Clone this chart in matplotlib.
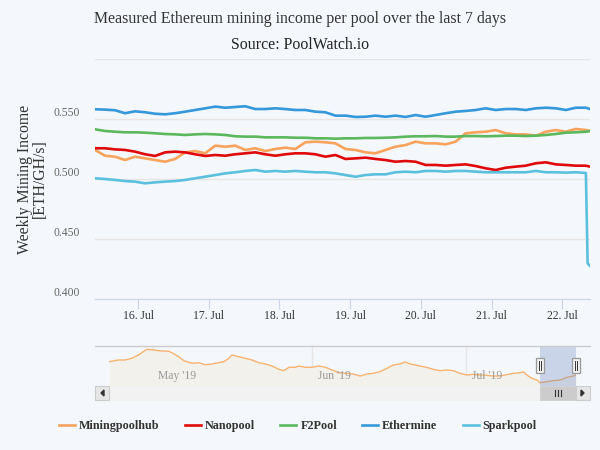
import numpy as np
import pandas as pd
import matplotlib
matplotlib.use("Agg")
import matplotlib.pyplot as plt
import matplotlib.dates as mdates
from matplotlib.patches import Rectangle, Polygon
from matplotlib.lines import Line2D

plt.rcParams["font.family"] = ["Liberation Serif", "DejaVu Serif"]

# --- data ---
start = pd.Timestamp("2019-07-15 09:24")
hours = list(np.arange(50) * 3.4) + [168.0]
spark_hours = list(np.arange(50) * 3.4) + [167.2, 168.0]

miningpoolhub = [0.5242, 0.5194, 0.5186, 0.5158, 0.5186, 0.5172, 0.5158, 0.5144, 0.5167, 0.5222,
                 0.5233, 0.5214, 0.5278, 0.5269, 0.5278, 0.5242, 0.5256, 0.5233,
                 0.5250, 0.5261, 0.5250, 0.5306, 0.5311, 0.5306, 0.5297, 0.5250, 0.5242, 0.5222,
                 0.5214, 0.5242, 0.5269, 0.5283, 0.5311, 0.5297,
                 0.5297, 0.5289, 0.5311, 0.5381, 0.5389, 0.5394, 0.5408, 0.5381, 0.5372, 0.5372,
                 0.5361, 0.5394, 0.5408, 0.5394, 0.5417, 0.5408, 0.5400]
nanopool = [0.5256, 0.5256, 0.5247, 0.5242, 0.5228, 0.5206, 0.5192, 0.5222, 0.5228, 0.5222,
            0.5206, 0.5192, 0.5200, 0.5194, 0.5206, 0.5214, 0.5222, 0.5206,
            0.5194, 0.5206, 0.5214, 0.5214, 0.5206, 0.5186, 0.5200, 0.5167, 0.5172, 0.5178,
            0.5167, 0.5158, 0.5144, 0.5150, 0.5144, 0.5117,
            0.5117, 0.5111, 0.5117, 0.5122, 0.5108, 0.5089, 0.5075, 0.5094, 0.5103, 0.5111,
            0.5131, 0.5139, 0.5122, 0.5117, 0.5111, 0.5111, 0.5103]
f2pool = [0.5414, 0.5400, 0.5394, 0.5389, 0.5389, 0.5386, 0.5381, 0.5375, 0.5372, 0.5367,
          0.5372, 0.5375, 0.5372, 0.5367, 0.5356, 0.5353, 0.5353, 0.5347,
          0.5347, 0.5347, 0.5344, 0.5344, 0.5339, 0.5339, 0.5336, 0.5339, 0.5339, 0.5342,
          0.5342, 0.5344, 0.5347, 0.5353, 0.5356, 0.5356,
          0.5358, 0.5353, 0.5353, 0.5358, 0.5358, 0.5356, 0.5358, 0.5361, 0.5361, 0.5358,
          0.5361, 0.5367, 0.5375, 0.5386, 0.5389, 0.5394, 0.5400]
ethermine = [0.5581, 0.5578, 0.5573, 0.5548, 0.5564, 0.5556, 0.5544, 0.5539, 0.5548, 0.5561,
             0.5575, 0.5589, 0.5603, 0.5594, 0.5600, 0.5606, 0.5583, 0.5583,
             0.5589, 0.5583, 0.5575, 0.5575, 0.5561, 0.5556, 0.5528, 0.5528, 0.5517, 0.5519,
             0.5528, 0.5519, 0.5528, 0.5517, 0.5533, 0.5519,
             0.5533, 0.5548, 0.5561, 0.5567, 0.5575, 0.5589, 0.5575, 0.5583, 0.5583, 0.5575,
             0.5589, 0.5594, 0.5589, 0.5575, 0.5594, 0.5594, 0.5583]
sparkpool = [0.5006, 0.5000, 0.4992, 0.4983, 0.4978, 0.4964, 0.4972, 0.4978, 0.4983, 0.4992,
             0.5006, 0.5019, 0.5033, 0.5047, 0.5056, 0.5067, 0.5075, 0.5061,
             0.5067, 0.5061, 0.5067, 0.5061, 0.5056, 0.5056, 0.5047, 0.5033, 0.5019, 0.5033,
             0.5039, 0.5039, 0.5056, 0.5061, 0.5056, 0.5067,
             0.5067, 0.5061, 0.5067, 0.5067, 0.5061, 0.5056, 0.5056, 0.5056, 0.5056, 0.5056,
             0.5067, 0.5056, 0.5056, 0.5053, 0.5056, 0.5050, 0.4297, 0.4275]

# navigator: Miningpoolhub over the whole history, days since 1 May 2019
nav_days = [-8.5, -6.7, -5.4, -4.1, -2.8, -1.2, 0.2, 1.1, 3.1, 3.7, 5.0, 6.0, 7.6, 8.9, 10.2,
            11.5, 12.8, 13.8, 14.8, 15.4, 16.7, 18.0, 19.3, 20.6, 21.9, 23.2, 24.5, 25.5, 26.5,
            27.7, 28.4, 29.7, 31.0, 32.3, 33.6, 34.9, 36.2, 37.8, 39.0, 40.4, 41.7, 42.9, 44.2,
            45.6, 46.8, 48.1, 49.1, 50.1, 52.0, 53.3, 54.6, 55.9, 57.2, 58.5, 59.8, 61.1, 62.4,
            63.7, 65.0, 66.3, 67.6, 68.9, 70.2, 71.5, 72.2, 72.8, 73.8, 74.8, 75.4, 76.7, 78.0,
            79.3, 80.6, 81.9, 82.4]
nav_values = [0.5978, 0.6041, 0.6041, 0.6104, 0.6226, 0.6437, 0.6411, 0.6385, 0.6363, 0.6311,
              0.6163, 0.6015, 0.5919, 0.5941, 0.5867, 0.5893, 0.5941, 0.5978, 0.6104, 0.6226,
              0.6163, 0.6104, 0.6041, 0.5941, 0.5893, 0.5819, 0.5696, 0.5644, 0.5770, 0.5770,
              0.5819, 0.5770, 0.5770, 0.5819, 0.5770, 0.5670, 0.5570, 0.5548, 0.5522, 0.5448,
              0.5522, 0.5548, 0.5607, 0.5733, 0.5856, 0.5893, 0.5967, 0.5893, 0.5819, 0.5770,
              0.5696, 0.5644, 0.5670, 0.5644, 0.5548, 0.5485, 0.5511, 0.5485, 0.5474, 0.5448,
              0.5448, 0.5496, 0.5548, 0.5570, 0.5596, 0.5485, 0.5363, 0.5300, 0.5200, 0.5237,
              0.5274, 0.5300, 0.5400, 0.5448, 0.5485]
month_days = [0, 31, 61]
month_labels = ["May '19", "Jun '19", "Jul '19"]

names = ["Miningpoolhub", "Nanopool", "F2Pool", "Ethermine", "Sparkpool"]
colors = ["#f7a35c", "#e00a0a", "#5cb85c", "#3598db", "#5bc0de"]

bg = "#f4f7fb"
W, H = 600, 450


def fx(px):
    return px / W


def fy(py):
    return 1 - py / H


fig = plt.figure(figsize=(6, 4.5), dpi=100, facecolor=bg)

# --- main chart ---
ax = fig.add_axes([fx(95), fy(299), fx(495), 240 / H], facecolor=bg)
times = [start + pd.Timedelta(hours=h) for h in hours]
spark_times = [start + pd.Timedelta(hours=h) for h in spark_hours]
series = [miningpoolhub, nanopool, f2pool, ethermine, sparkpool]
for i, (name, vals) in enumerate(zip(names, series)):
    t = spark_times if name == "Sparkpool" else times
    ax.plot(t, vals, color=colors[i], lw=1.9, label=name, solid_joinstyle="round")

ax.set_xlim(start, start + pd.Timedelta(hours=168))
ax.set_ylim(0.40, 0.60)
ax.set_yticks([0.40, 0.45, 0.50, 0.55, 0.60])
ax.set_yticklabels(["0.400", "0.450", "0.500", "0.550", ""])
ax.yaxis.grid(True, color="#e6e6e6", lw=1)
ax.set_axisbelow(True)
for s in ["top", "left", "right"]:
    ax.spines[s].set_visible(False)
ax.spines["bottom"].set_color("#ccd6eb")
ax.tick_params(axis="y", length=0, pad=11, labelsize=8.4, labelcolor="#666666")
for lab in ax.get_yticklabels():
    lab.set_va("bottom")
ax.xaxis.set_major_locator(mdates.DayLocator())
ax.xaxis.set_major_formatter(mdates.DateFormatter("%d. %b"))
ax.tick_params(axis="x", length=7.2, color="#ccd6eb", pad=0.5, labelsize=8.4, labelcolor="#333333")

fig.text(fx(300), fy(19), "Measured Ethereum mining income per pool over the last 7 days",
         ha="center", va="center", fontsize=11.4, color="#333333")
fig.text(fx(300), fy(45), "Source: PoolWatch.io", ha="center", va="center",
         fontsize=11.4, color="#222222")
fig.text(fx(32), fy(179), "Weekly Mining Income\n[ETH/GH/s]", rotation=90, ha="center",
         va="center", fontsize=11.3, color="#333333", linespacing=0.9, multialignment="center")

# --- navigator ---
nav = fig.add_axes([fx(109), fy(386), fx(467), 40 / H], facecolor=bg)
nav.fill_between(nav_days, nav_values, 0.5078, color="#f3f1ec", lw=0)
nav.plot(nav_days, nav_values, color="#f7b36f", lw=1)
nav.set_xlim(-8.55, 82.39)
nav.set_ylim(0.5078, 0.6559)
nav.set_xticks([])
nav.set_yticks([])
for s in nav.spines.values():
    s.set_visible(False)
for d, lab in zip(month_days, month_labels):
    nav.axvline(d, color="#e6e6e6", lw=1, zorder=0)
    nav.annotate(lab, (d, 0), xycoords=("data", "axes fraction"), xytext=(4, 3),
                 textcoords="offset points", fontsize=8.4, color="#999999", va="bottom")
sel0, sel1 = 75.39, 82.39
nav.axvspan(sel0, sel1, color="#6685c2", alpha=0.3, lw=0, zorder=3)

# selection in figure pixels
x0 = 109 + (sel0 + 8.55) / (82.39 + 8.55) * 467
x1 = 109 + (sel1 + 8.55) / (82.39 + 8.55) * 467

fig.add_artist(Line2D([fx(95), fx(590)], [fy(346), fy(346)], color="#cccccc", lw=1))

# scrollbar
fig.add_artist(Rectangle((fx(95), fy(400)), fx(495), 14 / H, facecolor="#f2f2f2",
                         edgecolor="#f2f2f2", lw=0.5))
fig.add_artist(Rectangle((fx(x0), fy(400)), fx(x1 - x0), 14 / H, facecolor="#cccccc",
                         edgecolor="#cccccc", lw=0.5))
for dx in (-3, 0, 3):
    xm = (x0 + x1) / 2 + dx
    fig.add_artist(Line2D([fx(xm), fx(xm)], [fy(396), fy(390)], color="#333333", lw=0.8))
for bx in (95, 576):
    fig.add_artist(Rectangle((fx(bx), fy(400)), fx(14), 14 / H, facecolor="#e6e6e6",
                             edgecolor="#cccccc", lw=0.8))
fig.add_artist(Polygon([[fx(104), fy(390)], [fx(104), fy(396)], [fx(101), fy(393)]],
                       closed=True, color="#333333"))
fig.add_artist(Polygon([[fx(581), fy(390)], [fx(581), fy(396)], [fx(584), fy(393)]],
                       closed=True, color="#333333"))

# handles
for hx in (x0, x1):
    fig.add_artist(Rectangle((fx(hx - 4), fy(373)), fx(8), 15 / H, facecolor="#f2f2f2",
                             edgecolor="#999999", lw=0.9))
    for dx in (-1.2, 1.2):
        fig.add_artist(Line2D([fx(hx + dx), fx(hx + dx)], [fy(361), fy(370)],
                              color="#333333", lw=0.7))

# --- legend ---
handles, labels = ax.get_legend_handles_labels()
leg = fig.legend(handles, labels, loc="center", bbox_to_anchor=(fx(298), fy(426)), ncol=5,
                 frameon=False, handlelength=1.3, handletextpad=0.35, columnspacing=2.1,
                 prop={"family": "Liberation Serif", "weight": "bold", "size": 8.7})
for t in leg.get_texts():
    t.set_color("#333333")

fig.savefig("out.png", dpi=100, facecolor=bg)
